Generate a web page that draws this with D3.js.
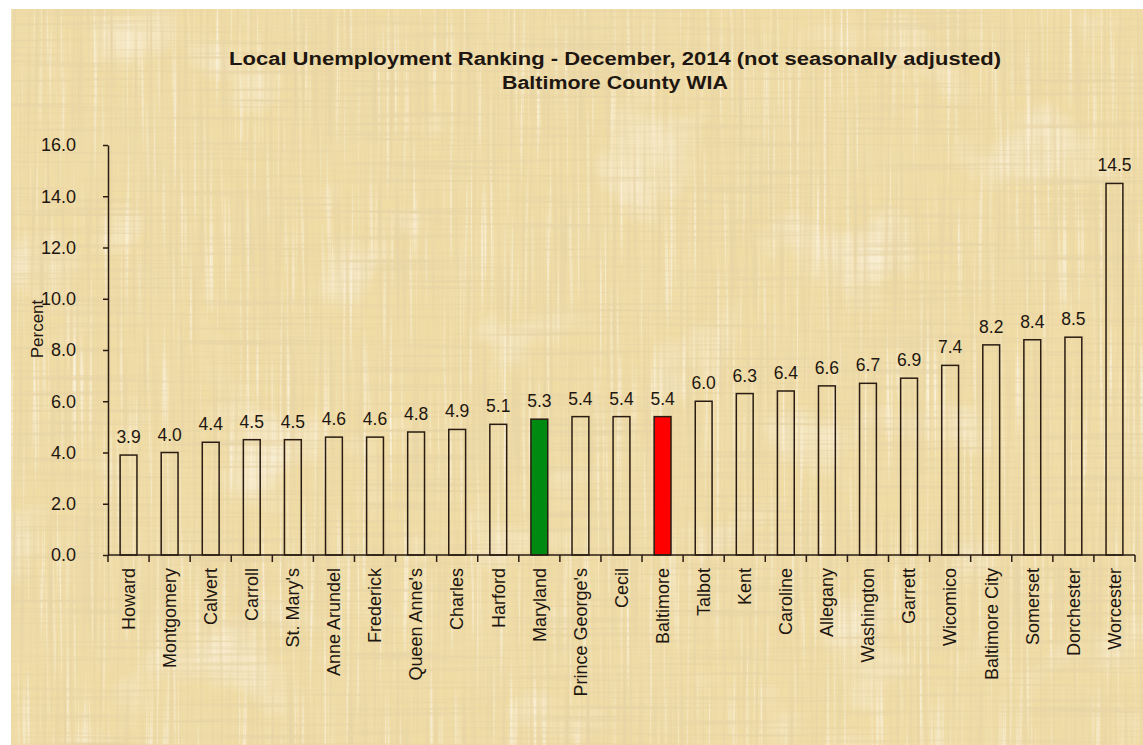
<!DOCTYPE html>
<html>
<head>
<meta charset="utf-8">
<script src="https://cdn.jsdelivr.net/npm/d3@7"></script>
<style>
  html, body { margin: 0; padding: 0; background: #ffffff; }
  svg { display: block; }
  text { font-family: "Liberation Sans", Arial, sans-serif; fill: #1e1610; }
</style>
</head>
<body>
<div id="chart"></div>
<script>
const counties = ["Howard", "Montgomery", "Calvert", "Carroll", "St. Mary's", "Anne Arundel",
  "Frederick", "Queen Anne's", "Charles", "Harford", "Maryland", "Prince George's", "Cecil",
  "Baltimore", "Talbot", "Kent", "Caroline", "Allegany", "Washington", "Garrett", "Wicomico",
  "Baltimore City", "Somerset", "Dorchester", "Worcester"];
const rates = [3.9, 4.0, 4.4, 4.5, 4.5, 4.6, 4.6, 4.8, 4.9, 5.1, 5.3, 5.4, 5.4, 5.4, 6.0,
  6.3, 6.4, 6.6, 6.7, 6.9, 7.4, 8.2, 8.4, 8.5, 14.5];
const yTicks = [0, 2, 4, 6, 8, 10, 12, 14, 16];
const highlight = { "Maryland": "#008a12", "Baltimore": "#ff0000" };
const titleLines = ["Local Unemployment  Ranking - December, 2014 (not seasonally adjusted)",
  "Baltimore County WIA"];

const W = 1143, H = 745;
const plot = { left: 108, right: 1135, top: 145, bottom: 555 };

const svg = d3.select("#chart").append("svg")
    .attr("width", W)
    .attr("height", H);

// parchment background: woven streaks + blotches
const defs = svg.append("defs");
const f = defs.append("filter").attr("id", "paper")
    .attr("x", 0).attr("y", 0).attr("width", 1).attr("height", 1);
f.append("feTurbulence").attr("type", "fractalNoise")
    .attr("baseFrequency", "0.3 0.006").attr("numOctaves", 2).attr("seed", 3).attr("result", "vert");
f.append("feTurbulence").attr("type", "fractalNoise")
    .attr("baseFrequency", "0.006 0.3").attr("numOctaves", 2).attr("seed", 7).attr("result", "horz");
f.append("feTurbulence").attr("type", "fractalNoise")
    .attr("baseFrequency", "0.01").attr("numOctaves", 3).attr("seed", 11).attr("result", "blot");
f.append("feColorMatrix").attr("in", "vert").attr("type", "matrix")
    .attr("values", "0 0 0 0 0.80  0 0 0 0 0.66  0 0 0 0 0.38  2.6 0 0 0 -1.25")
    .attr("result", "vDark");
f.append("feColorMatrix").attr("in", "horz").attr("type", "matrix")
    .attr("values", "0 0 0 0 0.80  0 0 0 0 0.66  0 0 0 0 0.38  2.6 0 0 0 -1.25")
    .attr("result", "hDark");
f.append("feColorMatrix").attr("in", "vert").attr("type", "matrix")
    .attr("values", "0 0 0 0 0.99  0 0 0 0 0.95  0 0 0 0 0.84  -2.6 0 0 0 1.05")
    .attr("result", "vLight");
f.append("feColorMatrix").attr("in", "blot").attr("type", "matrix")
    .attr("values", "0 0 0 0 0.86  0 0 0 0 0.72  0 0 0 0 0.40  1.8 0 0 0 -0.7")
    .attr("result", "blotDark");
f.append("feColorMatrix").attr("in", "blot").attr("type", "matrix")
    .attr("values", "0 0 0 0 0.98  0 0 0 0 0.93  0 0 0 0 0.80  -1.8 0 0 0 0.75")
    .attr("result", "blotLight");
f.append("feMerge").attr("result", "merged").call(m => {
    m.append("feMergeNode").attr("in", "SourceGraphic");
    m.append("feMergeNode").attr("in", "blotDark");
    m.append("feMergeNode").attr("in", "blotLight");
    m.append("feMergeNode").attr("in", "vLight");
    m.append("feMergeNode").attr("in", "vDark");
    m.append("feMergeNode").attr("in", "hDark");
});
f.append("feComposite").attr("in", "merged").attr("in2", "SourceGraphic").attr("operator", "in");

svg.append("rect")
    .attr("x", 11).attr("y", 9)
    .attr("width", W - 11).attr("height", H - 9)
    .attr("fill", "#f0dca4")
    .attr("filter", "url(#paper)");

// title
svg.append("text")
    .attr("x", 615).attr("y", 65)
    .attr("text-anchor", "middle")
    .attr("font-weight", "bold")
    .attr("font-size", 18)
    .attr("textLength", 772)
    .attr("lengthAdjust", "spacingAndGlyphs")
    .text(titleLines[0]);
svg.append("text")
    .attr("x", 615).attr("y", 89)
    .attr("text-anchor", "middle")
    .attr("font-weight", "bold")
    .attr("font-size", 18)
    .attr("textLength", 226)
    .attr("lengthAdjust", "spacingAndGlyphs")
    .text(titleLines[1]);

const x = d3.scaleBand()
    .domain(counties)
    .range([plot.left, plot.right])
    .padding(0);

const y = d3.scaleLinear()
    .domain([0, 16])
    .range([plot.bottom, plot.top]);

const axisColor = "#2a1c12";

// y axis
const yAxis = svg.append("g")
    .attr("transform", `translate(${plot.left},0)`)
    .call(d3.axisLeft(y).tickValues(yTicks).tickFormat(d3.format(".1f"))
        .tickSize(5).tickSizeOuter(0).tickPadding(27));
yAxis.select(".domain").attr("stroke", axisColor).attr("stroke-width", 1.5);
yAxis.selectAll(".tick line").attr("stroke", axisColor).attr("stroke-width", 1.5);
yAxis.selectAll(".tick text")
    .attr("font-size", 18)
    .attr("fill", "#1e1610")
    .attr("font-family", "Liberation Sans, Arial, sans-serif");

svg.append("text")
    .attr("transform", `translate(43,329) rotate(-90)`)
    .attr("text-anchor", "middle")
    .attr("font-size", 17)
    .text("Percent");

// bars
const barW = x.bandwidth() * 0.41;
svg.selectAll("rect.bar")
    .data(counties)
    .enter()
    .append("rect")
        .attr("class", "bar")
        .attr("x", d => x(d) + (x.bandwidth() - barW) / 2)
        .attr("y", (d, i) => y(rates[i]))
        .attr("width", barW)
        .attr("height", (d, i) => y(0) - y(rates[i]))
        .attr("fill", d => highlight[d] || "none")
        .attr("stroke", axisColor)
        .attr("stroke-width", 1.5);

// value labels
svg.selectAll("text.val")
    .data(counties)
    .enter()
    .append("text")
        .attr("class", "val")
        .attr("x", d => x(d) + x.bandwidth() / 2)
        .attr("y", (d, i) => y(rates[i]) - 12)
        .attr("text-anchor", "middle")
        .attr("font-size", 17.5)
        .text((d, i) => rates[i].toFixed(1));

// x axis line + boundary ticks
const xAxis = svg.append("g");
xAxis.append("line")
    .attr("x1", plot.left).attr("x2", plot.right)
    .attr("y1", y(0)).attr("y2", y(0))
    .attr("stroke", axisColor).attr("stroke-width", 1.5);
const bounds = counties.map(c => x(c)).concat([x.range()[1]]);
xAxis.selectAll("line.tick")
    .data(bounds)
    .enter()
    .append("line")
        .attr("class", "tick")
        .attr("x1", d => d).attr("x2", d => d)
        .attr("y1", y(0)).attr("y2", y(0) + 7)
        .attr("stroke", axisColor).attr("stroke-width", 1.5);

// category labels
xAxis.selectAll("text.cat")
    .data(counties)
    .enter()
    .append("text")
        .attr("class", "cat")
        .attr("transform", d => `translate(${x(d) + x.bandwidth() / 2},${y(0) + 13}) rotate(-90)`)
        .attr("dy", "0.35em")
        .attr("text-anchor", "end")
        .attr("font-size", 18)
        .text(d => d);
</script>
</body>
</html>
